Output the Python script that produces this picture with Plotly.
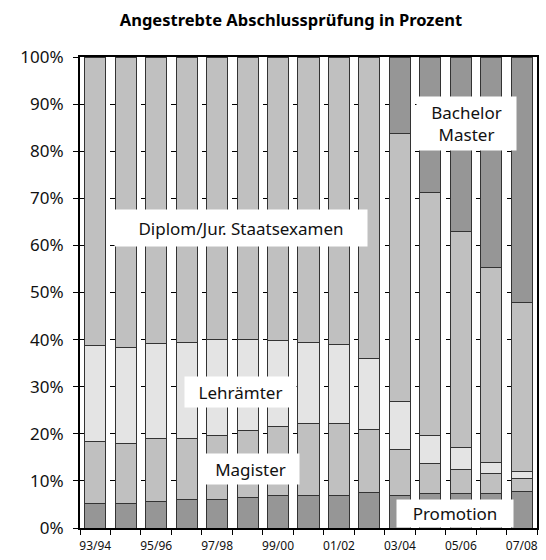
import plotly.graph_objects as go

# Wintersemester, Anteile in Prozent
semester = ["93/94", "94/95", "95/96", "96/97", "97/98", "98/99", "99/00", "00/01",
            "01/02", "02/03", "03/04", "04/05", "05/06", "06/07", "07/08"]
tick_labels = ["93/94", "", "95/96", "", "97/98", "", "99/00", "",
               "01/02", "", "03/04", "", "05/06", "", "07/08"]

promotion = [5.1, 5.3, 5.7, 6.0, 6.1, 6.4, 6.8, 7.0, 7.0, 7.6, 7.0, 7.4, 7.4, 7.4, 7.7]
magister = [13.3, 12.7, 13.3, 13.1, 13.6, 14.2, 14.8, 15.2, 15.1, 13.3, 9.6, 6.4, 5.1, 4.1, 2.9]
lehraemter = [20.3, 20.4, 20.2, 20.3, 20.3, 19.4, 18.2, 17.1, 16.8, 15.0, 10.2, 5.8, 4.5, 2.5, 1.3]
diplom = [61.3, 61.6, 60.8, 60.6, 60.0, 60.0, 60.2, 60.7, 61.1, 64.1, 57.0, 51.6, 45.9, 41.4, 35.9]
bachelor_master = [0, 0, 0, 0, 0, 0, 0, 0, 0, 0, 16.2, 28.8, 37.1, 44.6, 52.2]

series = [
    ("Promotion", promotion, "#969696"),
    ("Magister", magister, "#c0c0c0"),
    ("Lehrämter", lehraemter, "#e4e4e4"),
    ("Diplom/Jur. Staatsexamen", diplom, "#c0c0c0"),
    ("Bachelor/Master", bachelor_master, "#969696"),
]

FONT = "Noto Sans"

fig = go.Figure()
for name, vals, col in series:
    fig.add_trace(go.Bar(
        name=name, x=semester, y=vals,
        marker=dict(color=col, line=dict(color="#333333", width=1)),
        hovertemplate=name + ": %{y:.1f}%<extra></extra>",
    ))

# Beschriftungen in weissen Kästen
labels = [
    ("Diplom/Jur. Staatsexamen", 0.352, 0.638, 252, 36),
    ("Bachelor<br>Master", 0.846, 0.859, 99, 53),
    ("Lehrämter", 0.352, 0.289, 111, 30),
    ("Magister", 0.374, 0.126, 97, 30),
    ("Promotion", 0.821, 0.030, 116, 27),
]
for txt, ax, ay, w, h in labels:
    fig.add_annotation(
        text=txt, x=ax, y=ay, xref="paper", yref="paper", showarrow=False,
        xanchor="center", yanchor="middle", width=w, height=h,
        bgcolor="white", borderpad=0,
        font=dict(family=FONT, size=17, color="#111111"),
    )

fig.update_layout(
    barmode="stack",
    bargap=0.31,
    width=546, height=560,
    margin=dict(l=80, r=9, t=57, b=32),
    plot_bgcolor="white", paper_bgcolor="white",
    showlegend=False,
    title=dict(text="<b>Angestrebte Abschlussprüfung in Prozent</b>",
               x=0.533, xanchor="center", y=0.963, yanchor="middle",
               font=dict(family=FONT, size=16.5, color="#000000")),
    font=dict(family=FONT, color="#111111"),
)
fig.update_xaxes(
    type="category", tickson="boundaries", tickvals=semester, ticktext=tick_labels,
    ticks="outside", ticklen=5, tickcolor="#000000", tickangle=0,
    tickfont=dict(size=12, family=FONT), ticklabelstandoff=6, automargin=False,
    showline=True, linecolor="#000000", linewidth=2, mirror=True,
    showgrid=False,
)
fig.update_yaxes(
    range=[0, 100], dtick=10, ticksuffix="%",
    ticks="outside", ticklen=5, tickcolor="#000000",
    tickfont=dict(size=17, family=FONT),
    ticklabelstandoff=6, automargin=False,
    showline=True, linecolor="#000000", linewidth=2, mirror=True,
    showgrid=True, gridcolor="#000000", gridwidth=1, griddash="5px,25.467px",
    zeroline=False,
)

fig.write_html("out.html", config={"displayModeBar": False},
               post_script="document.body.style.margin='0';")
